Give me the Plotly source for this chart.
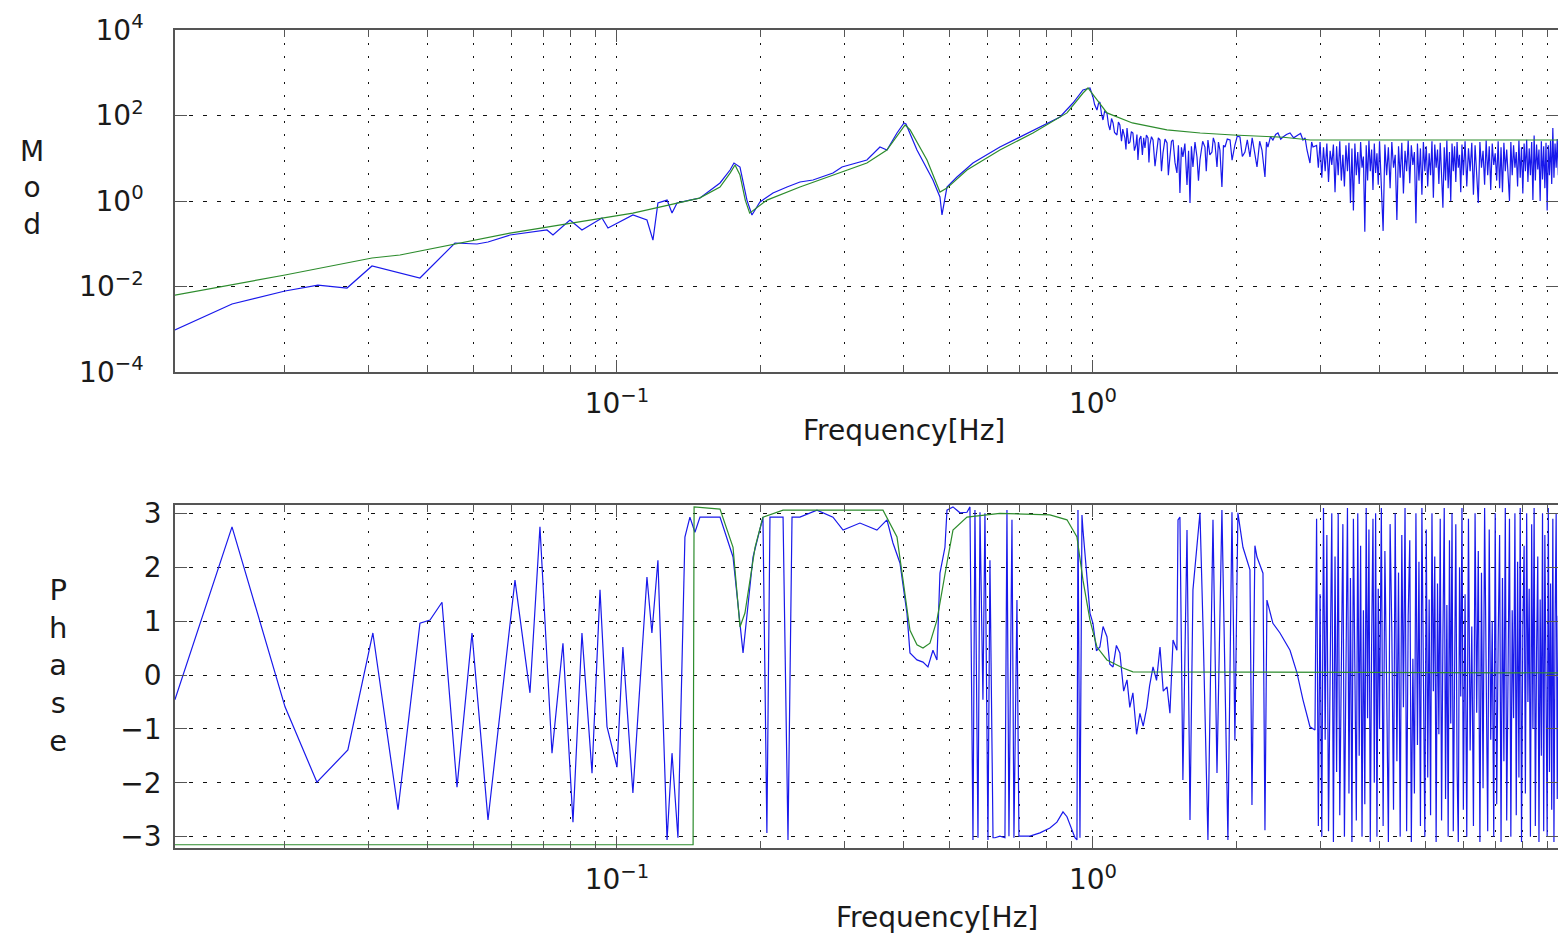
import plotly.graph_objects as go

# ---------------- data ----------------
# measured magnitude, low frequency part
mag_lo_freq = [0.01178, 0.01553, 0.02007, 0.02353, 0.02709, 0.03057, 0.03855, 0.04567, 0.0508, 0.05358,
               0.05959, 0.07127, 0.07337, 0.07966, 0.08441, 0.093, 0.09574, 0.108, 0.1156, 0.119,
               0.1219, 0.1274, 0.1305, 0.1337, 0.1423, 0.1494, 0.1646, 0.1728, 0.1761, 0.1813,
               0.1875, 0.1921, 0.1997, 0.2127, 0.2276, 0.2423, 0.2581, 0.2843, 0.297, 0.335,
               0.3568, 0.3691, 0.3875, 0.4008, 0.4047, 0.4268, 0.4611, 0.477, 0.4817, 0.4935,
               0.5179, 0.5596, 0.6375, 0.7484, 0.8525, 0.9078, 0.9528, 0.9856]
mag_lo_val = [0.00096, 0.0039, 0.00785, 0.0108, 0.0092, 0.0302, 0.0158, 0.104, 0.0987, 0.11,
              0.16, 0.21, 0.16, 0.36, 0.21, 0.4, 0.233, 0.471, 0.36, 0.122,
              0.9, 1.05, 0.524, 0.9, 1.05, 1.175, 2.64, 5.31, 7.74, 6.24,
              1.05, 0.471, 0.947, 1.54, 2.12, 2.78, 3.1, 4.52, 6.24, 9.1,
              18.3, 15.6, 39, 66.8, 63.3, 15.6, 3.1, 1.24, 0.471, 2.12,
              3.64, 7.74, 18.3, 45.8, 92.3, 196, 395, 440]

# measured magnitude, 1 - 3 Hz
mag_mid_freq = [1.0, 1.008, 1.0195, 1.027, 1.034, 1.042, 1.0496, 1.058, 1.07, 1.078,
                1.0857, 1.094, 1.102, 1.11, 1.123, 1.131, 1.139, 1.148, 1.155, 1.167,
                1.173, 1.179, 1.188, 1.196, 1.204, 1.213, 1.222, 1.231, 1.237, 1.243,
                1.252, 1.261, 1.27, 1.278, 1.286, 1.295, 1.305, 1.311, 1.317, 1.327,
                1.337, 1.35, 1.363, 1.372, 1.383, 1.393, 1.403, 1.417, 1.431, 1.44,
                1.451, 1.462, 1.473, 1.487, 1.501, 1.512, 1.523, 1.534, 1.545, 1.56,
                1.576, 1.588, 1.599, 1.61, 1.622, 1.638, 1.654, 1.666, 1.678, 1.7,
                1.719, 1.73, 1.744, 1.76, 1.778, 1.79, 1.804, 1.822, 1.835, 1.848,
                1.866, 1.88, 1.894, 1.915, 1.941, 1.96, 1.987, 2.01, 2.036, 2.06,
                2.086, 2.11, 2.137, 2.16, 2.178, 2.211, 2.24, 2.265, 2.298, 2.315,
                2.331, 2.36, 2.388, 2.42, 2.447, 2.48, 2.507, 2.55, 2.594, 2.64,
                2.696, 2.73, 2.762, 2.79, 2.816, 2.857, 2.88, 2.899]
mag_mid_val = [271, 180, 134, 190, 207, 110, 78.5, 125, 114, 60,
               45.8, 85, 66.8, 40, 35, 70, 60, 25, 48, 29.8,
               16, 51, 22, 24, 42, 39, 15, 20.4, 36, 9.1,
               28, 33, 12, 30, 17.4, 35, 29.8, 8, 20.4, 32,
               26.7, 6.5, 14, 30, 26.7, 5, 13.3, 28, 22.7, 4,
               10.7, 25, 26.7, 8, 4.52, 20, 1.54, 18, 10.7, 22,
               2.37, 15, 0.9, 19, 6.24, 24, 10.7, 3, 9.1, 25,
               18.3, 5, 26.7, 12, 14, 30, 22.7, 6.24, 24, 15.6,
               2.12, 20, 18.3, 28, 26.7, 9, 20.4, 33, 31.4, 11,
               14, 27, 10.7, 30, 17.4, 6.24, 25, 15.6, 3.64, 24,
               18.3, 32, 26.7, 36, 39, 28, 31.4, 36, 39, 30,
               35, 38, 26.7, 30, 15.6, 7.74, 24, 18.3]

# dense noisy band above ~3 Hz (shared frequency list for magnitude and phase)
band_freq = [2.95, 2.975, 3.0, 3.025, 3.05, 3.075, 3.1, 3.125, 3.15, 3.175, 3.2, 3.225, 3.25, 3.275,
             3.3, 3.325, 3.35, 3.375, 3.4, 3.425, 3.45, 3.475, 3.5, 3.525, 3.55, 3.575, 3.6, 3.625,
             3.65, 3.675, 3.7, 3.725, 3.75, 3.775, 3.8, 3.825, 3.85, 3.875, 3.9, 3.925, 3.95, 3.975,
             4.0, 4.035, 4.07, 4.105, 4.14, 4.175, 4.21, 4.245, 4.28, 4.315, 4.35, 4.385, 4.42, 4.455,
             4.49, 4.525, 4.56, 4.595, 4.63, 4.665, 4.7, 4.735, 4.77, 4.805, 4.84, 4.875, 4.91, 4.945,
             4.98, 5.015, 5.05, 5.085, 5.12, 5.155, 5.19, 5.225, 5.26, 5.295, 5.33, 5.365, 5.4, 5.435,
             5.47, 5.505, 5.54, 5.575, 5.61, 5.645, 5.68, 5.715, 5.75, 5.785, 5.82, 5.855, 5.89, 5.925,
             5.96, 6.0, 6.05, 6.1, 6.15, 6.2, 6.25, 6.3, 6.35, 6.4, 6.45, 6.5, 6.55, 6.6, 6.65, 6.7,
             6.75, 6.8, 6.85, 6.9, 6.95, 7.0, 7.05, 7.1, 7.15, 7.2, 7.25, 7.3, 7.35, 7.4, 7.45, 7.5,
             7.55, 7.6, 7.65, 7.7, 7.75, 7.8, 7.85, 7.9, 7.95, 8.0, 8.05, 8.1, 8.15, 8.2, 8.25, 8.3,
             8.35, 8.4, 8.45, 8.5, 8.55, 8.6, 8.65, 8.7, 8.75, 8.8, 8.85, 8.9, 8.95, 9.0, 9.05, 9.1,
             9.15, 9.2, 9.25, 9.3, 9.35, 9.4, 9.45, 9.5]
band_mag = [20, 6, 24, 3.5, 18, 5, 22, 2.8, 15, 7, 21, 1.6, 19, 4, 25, 3, 12, 2.2, 20, 5,
            23, 0.9, 17, 0.6, 22, 4, 14, 2.5, 24, 6, 11, 0.19, 20, 3, 26, 5, 16, 1.8, 22, 4.5,
            13, 2.4,
            25, 3.2, 0.2, 21, 4, 18, 2, 24, 6, 12, 0.36, 19, 3.5, 23, 1.5, 15, 5, 26, 2.6, 20,
            7, 14, 0.3, 22, 3, 17, 1.4, 24, 5, 19, 2.2, 13, 4, 25, 1.2, 21, 6, 16, 2.5, 23,
            4.5, 0.7, 18, 3, 26, 2, 14, 1.0, 22, 5, 19, 2.8, 24, 6, 12, 1.6, 21,
            4, 25, 2.2, 17, 5, 23, 1.4, 20, 3.5, 0.9, 24, 6, 15, 2.4, 26, 4, 19, 1.8, 22, 7,
            13, 3, 25, 2, 18, 1.6, 23, 5, 16, 2.6, 1.0, 24, 4, 20, 6, 14, 2.2, 26, 3.5, 18,
            1.5, 22, 5, 27, 2.8, 17, 4, 24, 1.05, 34, 3, 21, 5.5, 16, 1.0, 25, 3.2, 19, 2, 23,
            0.6, 20, 4, 26, 2.5, 51, 3.5, 22, 6, 28, 4]
band_phase = [2.9, -2.8, 1.5, -3.0, 3.1, -1.2, 2.6, -2.9, 0.4, 3.0,
              -3.1, 2.2, -1.8, 3.0, -2.6, 0.9, 2.8, -3.0, -0.5, 3.1,
              -2.2, 1.8, -3.1, 2.9, 0.1, -2.7, 3.0, -1.5, 2.4, -3.0,
              1.2, -2.4, 3.1, -0.8, 2.7, -3.1, 0.6, 2.9, -2.0, 3.0,
              -3.0, 1.6, -1.0, 3.1, -2.8, 2.3, -0.2, -3.1, 2.8, 0.8,
              -2.5, 3.0, -1.6, 1.9, -3.0, 2.6, -0.6, 3.1, -2.9, 1.1,
              2.5, -3.1, 0.3, -2.2, 3.0, -1.3, 2.1, -2.8, 3.1, 0.5,
              -3.0, 2.7, -1.9, 1.4, -2.6, 3.0, -0.3, 2.2, -3.1, 1.7,
              -1.1, 2.9, -2.7, 0.7, 3.1, -2.3, 1.3, -3.0, 2.5, -0.9,
              3.0, -2.9, 0.2, 2.8, -1.7, -3.1, 2.0, -0.4, 3.1, -2.5,
              1.5, -3.0, 2.9, -1.4, 0.9, -2.8, 3.0, -0.7, 2.3, -3.1,
              1.9, -2.1, 3.1, -0.1, -2.9, 2.7, -1.2, 1.0, -3.0, 3.0,
              -2.4, 0.6, 2.6, -3.1, 1.8, -1.6, 3.1, -2.7, 0.3, 2.9,
              -3.0, 1.2, -0.8, 3.0, -2.6, 2.1, -1.9, 3.1, -3.1, 0.8,
              2.4, -2.2, 3.0, -0.5, 1.6, -3.0, 2.8, -1.0, 3.1, -2.8,
              0.4, 2.2, -3.1, 1.4, -1.5, 3.0, -2.9, 2.6, -0.2, -3.0,
              3.1, -1.8, 1.7, -2.5, 2.9, -3.1, 0.9, 3.0, -2.3, 1.1]

# measured phase below ~3 Hz
phase_lo_freq = [0.01178, 0.01553, 0.02007, 0.02342, 0.0272, 0.0307, 0.03467, 0.03855, 0.04047, 0.04289,
                 0.04612, 0.04959, 0.05358, 0.06105, 0.06564, 0.06889, 0.07302, 0.077, 0.08082, 0.08441,
                 0.08862, 0.09211, 0.09528, 0.1, 0.1029, 0.108, 0.1156, 0.1184, 0.1219, 0.1274,
                 0.1305, 0.1343, 0.1389, 0.1423, 0.1458, 0.1494, 0.1646, 0.1753, 0.184, 0.1931,
                 0.2026, 0.2065, 0.2096, 0.2233, 0.2287, 0.2332, 0.2423, 0.2631, 0.2843, 0.2985,
                 0.3239, 0.3516, 0.3691, 0.38, 0.3931, 0.4066, 0.4126, 0.4268, 0.4394, 0.4501,
                 0.4611, 0.4701, 0.477, 0.4887, 0.4935, 0.508, 0.5255, 0.5436, 0.5515, 0.5596,
                 0.565, 0.5733, 0.5789, 0.5873, 0.593, 0.6017, 0.6075, 0.6166, 0.6226, 0.6375,
                 0.6532, 0.6596, 0.666, 0.6758, 0.6823, 0.6923, 0.699, 0.7373, 0.7738, 0.812,
                 0.84, 0.865, 0.8818, 0.8991, 0.9166, 0.9255, 0.93, 0.939, 0.9482, 0.9528,
                 0.9714, 0.9856, 1.0, 1.017, 1.034, 1.05, 1.07, 1.085, 1.102, 1.12,
                 1.139, 1.16, 1.179, 1.195, 1.213, 1.235, 1.255, 1.275, 1.298, 1.315,
                 1.337, 1.36, 1.383, 1.405, 1.431, 1.451, 1.473, 1.501, 1.509, 1.523,
                 1.545, 1.576, 1.599, 1.622, 1.678, 1.703, 1.744, 1.787, 1.822, 1.866,
                 1.921, 1.959, 1.987, 2.016, 2.066, 2.137, 2.158, 2.189, 2.211, 2.276,
                 2.298, 2.32, 2.388, 2.471, 2.594, 2.683, 2.762, 2.857, 2.927]
phase_lo_val = [-0.46, 2.75, -0.59, -1.99, -1.39, 0.78, -2.5, 0.96, 1.02, 1.35,
                -2.08, 0.78, -2.69, 1.76, -0.33, 2.75, -1.45, 0.59, -2.73, 0.78,
                -1.82, 1.58, -0.96, -1.71, 0.52, -2.19, 1.82, 0.78, 2.13, -3.06,
                -1.45, -3.02, 2.56, 2.93, 2.65, 2.93, 2.93, 2.19, 0.41, 2.19,
                2.93, -2.93, 2.93, 2.93, -3.06, 2.93, 2.93, 3.06, 2.93, 2.69,
                2.82, 2.69, 2.88, 2.45, 2.08, 1.15, 0.41, 0.28, 0.24, 0.15,
                0.46, 0.28, 1.89, 2.37, 3.06, 3.12, 3.01, 3.02, 3.12, -3.06,
                3.06, -3.02, 3.02, -0.46, 3.0, -3.06, 2.13, -3.02, -3.02, -2.99,
                -3.02, 3.06, -2.99, 2.88, -3.02, 1.39, -2.99, -2.99, -2.93, -2.84,
                -2.73, -2.54, -2.63, -2.84, -3.02, -3.06, 3.06, -3.02, 2.97, 2.69,
                1.76, 1.15, 0.96, 0.45, 0.52, 0.9, 0.71, 0.2, 0.15, 0.55,
                0.41, -0.3, -0.09, -0.6, -0.33, -1.1, -0.71, -0.95, -0.59, -0.2,
                0.15, -0.1, 0.52, -0.3, -0.22, -0.71, 0.65, 0.46, 2.88, 2.93,
                -1.95, 2.69, -2.69, 1.58, 3.01, 0.89, -3.06, 2.88, -1.82, 3.06,
                -3.06, 3.02, -1.21, 3.01, 2.37, 1.95, -2.41, 2.4, 2.19, 1.89,
                -2.88, 1.39, 0.96, 0.78, 0.46, 0.04, -0.46, -0.96, -1.02]

# fitted model (green)
model_mag_freq = [0.01178, 0.02007, 0.03057, 0.035, 0.0596, 0.108, 0.149, 0.1646, 0.1728, 0.177,
                  0.1813, 0.186, 0.19, 0.2066, 0.2423, 0.335, 0.369, 0.393, 0.403, 0.413,
                  0.448, 0.477, 0.4935, 0.5436, 0.6375, 0.748, 0.882, 0.953, 0.976, 1.02,
                  1.07, 1.21, 1.43, 1.68, 1.97, 2.51, 2.86, 9.5]
model_mag_val = [0.0063, 0.0186, 0.0464, 0.0546, 0.178, 0.52, 1.17, 2.12, 4.5, 6.95,
                 4.05, 1.05, 0.52, 1.05, 2.12, 7.74, 15.6, 39, 60, 46,
                 9.1, 1.62, 2.0, 5.3, 15.6, 39, 115, 336, 440, 231,
                 115, 67, 46, 39, 35, 31, 26.7, 26.7]
model_phase_freq = [0.01178, 0.1445, 0.1452, 0.1646, 0.1753, 0.1787, 0.1813, 0.1857, 0.1903, 0.195,
                    0.2026, 0.2233, 0.3621, 0.3875, 0.399, 0.4126, 0.4268, 0.4394, 0.4545, 0.4701,
                    0.4935, 0.508, 0.5436, 0.6375, 0.812, 0.8818, 0.9255, 0.9528, 0.9856, 1.0195,
                    1.07, 1.156, 1.213, 9.5]
model_phase_val = [-3.15, -3.15, 3.12, 3.08, 2.37, 1.58, 0.89, 1.15, 1.76, 2.37,
                   2.93, 3.06, 3.06, 2.56, 1.76, 0.83, 0.56, 0.5, 0.59, 1.02,
                   2.08, 2.69, 2.93, 3.0, 2.97, 2.88, 2.56, 1.76, 1.02, 0.52,
                   0.28, 0.13, 0.06, 0.04]

# axis ticks
x_major = [0.1, 1]
x_major_text = ["10<sup>\u22121</sup>", "10<sup>0</sup>"]
x_minor = [0.02, 0.03, 0.04, 0.05, 0.06, 0.07, 0.08, 0.09,
           0.2, 0.3, 0.4, 0.5, 0.6, 0.7, 0.8, 0.9,
           2, 3, 4, 5, 6, 7, 8, 9]
mag_ticks = [1e-4, 1e-2, 1, 1e2, 1e4]
mag_tick_text = ["10<sup>\u22124</sup>", "10<sup>\u22122</sup>", "10<sup>0</sup>",
                 "10<sup>2</sup>", "10<sup>4</sup>"]
phase_ticks = [-3, -2, -1, 0, 1, 2, 3]

# ---------------- assemble series ----------------
mag_f, mag_v = [], []
for f_list, v_list in ((mag_lo_freq, mag_lo_val), (mag_mid_freq, mag_mid_val), (band_freq, band_mag)):
    for f, v in zip(f_list, v_list):
        mag_f.append(f)
        mag_v.append(v)
ph_f, ph_v = [], []
for f_list, v_list in ((phase_lo_freq, phase_lo_val), (band_freq, band_phase)):
    for f, v in zip(f_list, v_list):
        ph_f.append(f)
        ph_v.append(v)

# ---------------- figure ----------------
W, H = 1558, 943
BLUE = "rgb(25,25,235)"
GREEN = "rgb(45,140,45)"
FONT = "DejaVu Sans"
TXT = "#1a1a1a"
AXC = "#555555"
GRIDC = "#111111"
FS = 28

fig = go.Figure()
fig.add_trace(go.Scatter(x=mag_f, y=mag_v, mode="lines", line=dict(color=BLUE, width=1.2),
                         xaxis="x", yaxis="y", hoverinfo="skip"))
fig.add_trace(go.Scatter(x=model_mag_freq, y=model_mag_val, mode="lines", line=dict(color=GREEN, width=1.2),
                         xaxis="x", yaxis="y", hoverinfo="skip"))
fig.add_trace(go.Scatter(x=ph_f, y=ph_v, mode="lines", line=dict(color=BLUE, width=1.2),
                         xaxis="x2", yaxis="y2", hoverinfo="skip"))
fig.add_trace(go.Scatter(x=model_phase_freq, y=model_phase_val, mode="lines", line=dict(color=GREEN, width=1.2),
                         xaxis="x2", yaxis="y2", hoverinfo="skip"))

x_dom = [175 / W, 1.0]
top_dom = [1 - 372 / H, 1 - 30 / H]
bot_dom = [1 - 848 / H, 1 - 505 / H]
x_range = [-1.9286, 0.977]

VDASH = "2px,11px"
HDASH = "4px,10px"


def xaxis_cfg(anchor):
    return dict(
        type="log", domain=x_dom, range=x_range, anchor=anchor, automargin=False,
        tickmode="array", tickvals=x_major, ticktext=x_major_text,
        ticks="inside", ticklen=12, tickwidth=1, tickcolor=AXC,
        showline=True, linecolor=AXC, linewidth=1.5, mirror="allticks",
        showgrid=True, gridcolor=GRIDC, gridwidth=1, griddash=VDASH,
        zeroline=False, tickfont=dict(family=FONT, size=FS, color=TXT),
        ticklabelstandoff=6,
        minor=dict(tickmode="array", tickvals=x_minor, ticks="inside", ticklen=7,
                   tickcolor=AXC, showgrid=True, gridcolor=GRIDC, gridwidth=1, griddash=VDASH),
    )


fig.update_layout(
    width=W, height=H,
    margin=dict(l=0, r=0, t=0, b=0, autoexpand=False),
    paper_bgcolor="white", plot_bgcolor="white",
    showlegend=False,
    xaxis=xaxis_cfg("y"),
    xaxis2=xaxis_cfg("y2"),
    yaxis=dict(
        type="log", domain=top_dom, range=[-4, 4], anchor="x", automargin=False,
        tickmode="array", tickvals=mag_ticks, ticktext=mag_tick_text,
        ticks="inside", ticklen=12, tickcolor=AXC,
        showline=True, linecolor=AXC, linewidth=1.5, mirror="allticks",
        showgrid=True, gridcolor=GRIDC, gridwidth=1, griddash=HDASH,
        zeroline=False, tickfont=dict(family=FONT, size=FS, color=TXT),
        ticklabelstandoff=24,
    ),
    yaxis2=dict(
        domain=bot_dom, range=[-3.21, 3.155], anchor="x2", automargin=False,
        tickmode="array", tickvals=phase_ticks,
        ticks="inside", ticklen=12, tickcolor=AXC,
        showline=True, linecolor=AXC, linewidth=1.5, mirror="allticks",
        showgrid=True, gridcolor=GRIDC, gridwidth=1, griddash=HDASH,
        zeroline=False, tickfont=dict(family=FONT, size=FS, color=TXT),
        ticklabelstandoff=6,
    ),
    annotations=[
        dict(text="Frequency[Hz]", x=904 / W, y=1 - 430 / H, xref="paper", yref="paper",
             showarrow=False, xanchor="center", yanchor="middle",
             font=dict(family=FONT, size=FS, color=TXT)),
        dict(text="Frequency[Hz]", x=937 / W, y=1 - 917 / H, xref="paper", yref="paper",
             showarrow=False, xanchor="center", yanchor="middle",
             font=dict(family=FONT, size=FS, color=TXT)),
        dict(text="M<br>o<br>d", x=32 / W, y=1 - 188 / H, xref="paper", yref="paper",
             showarrow=False, xanchor="center", yanchor="middle",
             font=dict(family=FONT, size=28, color=TXT)),
        dict(text="P<br>h<br>a<br>s<br>e", x=58 / W, y=1 - 665 / H, xref="paper", yref="paper",
             showarrow=False, xanchor="center", yanchor="middle",
             font=dict(family=FONT, size=29, color=TXT)),
    ],
)

fig.write_html("out.html", config={"displayModeBar": False})
